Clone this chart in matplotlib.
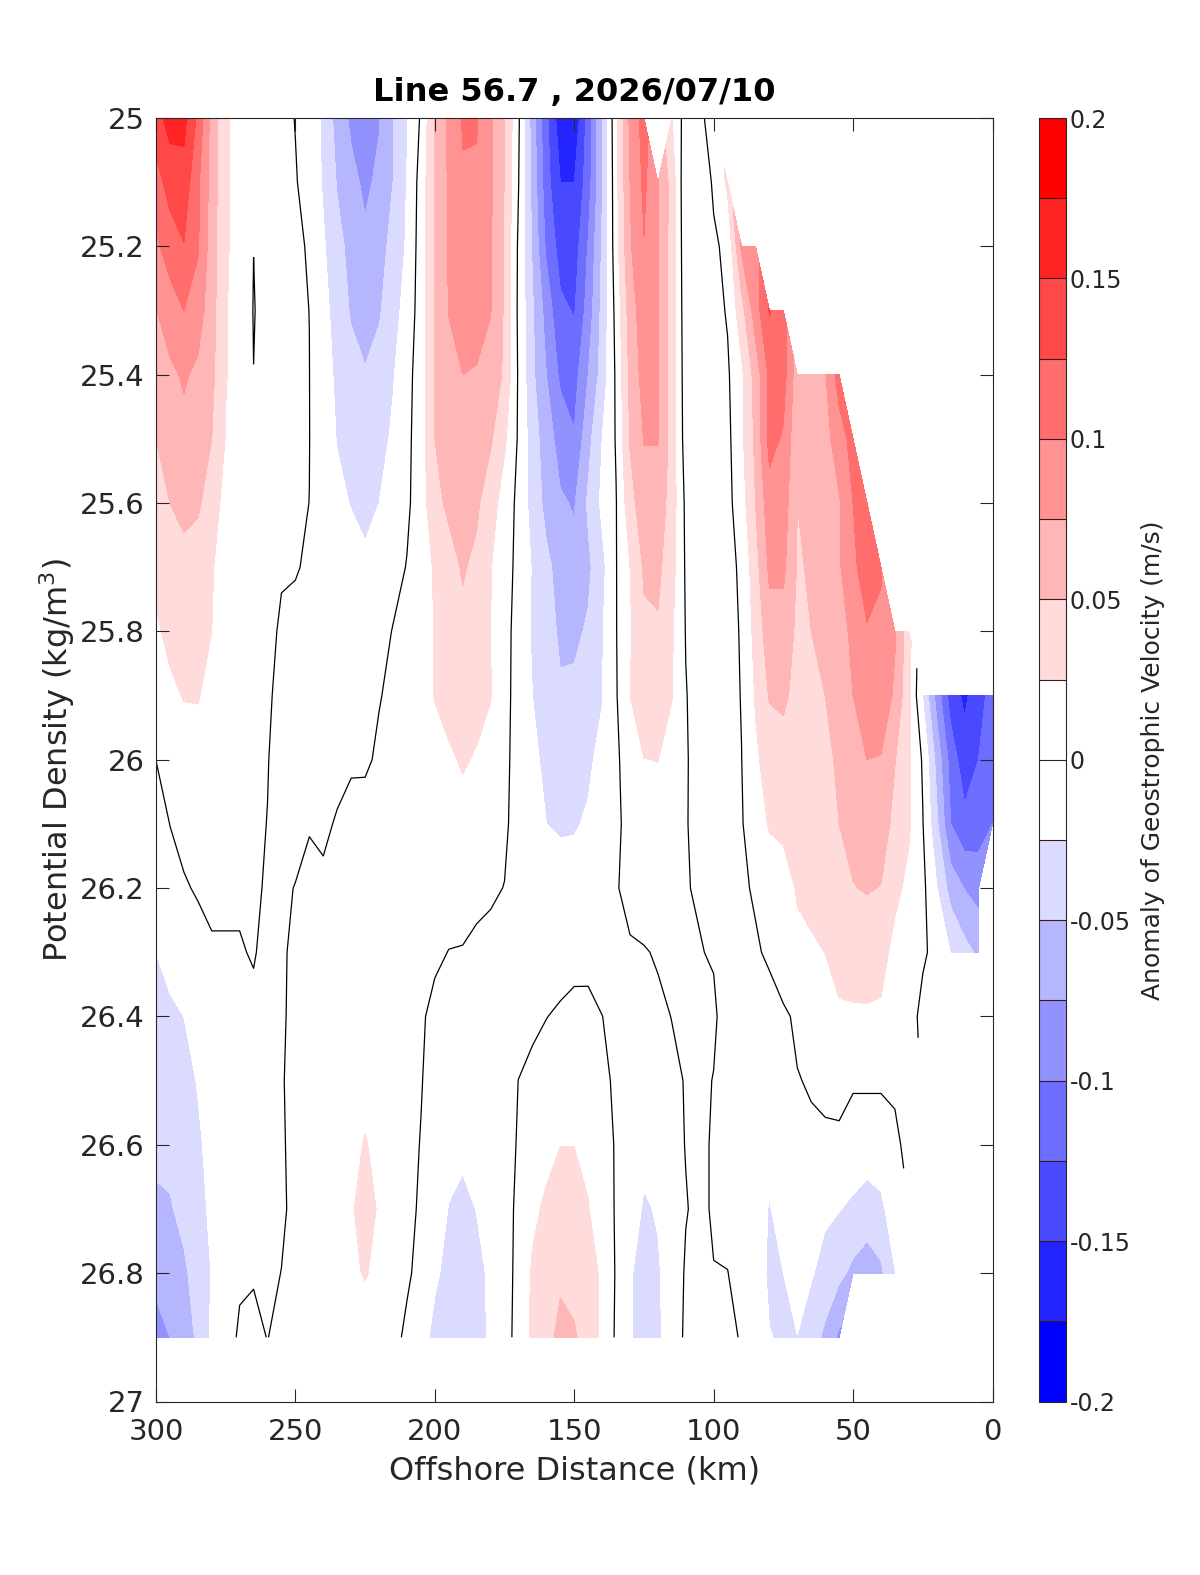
import numpy as np
import matplotlib
matplotlib.use('Agg')
import matplotlib.pyplot as plt
from matplotlib.colors import ListedColormap

N = np.nan

# offshore distance (km) and potential density (kg/m3) of the section grid
distance = list(range(300, -5, -5))
density = [25.0, 25.1, 25.2, 25.3, 25.4, 25.5, 25.6, 25.7, 25.8, 25.9,
           26.0, 26.1, 26.2, 26.3, 26.4, 26.5, 26.6, 26.7, 26.8, 26.9]

# velocity anomaly in mm/s, one row per density, 300 km -> 0 km
vel_mm_s = [
    [140, 160, 158, 120, 65, 27, 20, 16, 10, 5,
     -0.5, -8, -30, -60, -80, -90, -77, -50, -27, 3,
     52, 80, 102, 102, 80, 50, 4, -62, -120, -165,
     -170, -115, -50, 20, 80, 110, N, 26, -12, -4,
     8] + [N] * 20,
    [115, 135, 140, 105, 65, 27, 20, 12, 9, 4,
     1, -6, -28, -52, -68, -80, -70, -50, -24, 10,
     52, 78, 98, 97, 79, 49, 1, -58, -115, -150,
     -150, -112, -52, 18, 75, 105, 77, 40, -20, -10,
     2, 30] + [N] * 19,
    [95, 112, 124, 103, 62, 27, 19, 0.2, 8, 3,
     2, -1, -22, -43, -57, -70, -60, -42, -22, 12,
     52, 77, 93, 90, 77, 48, -4, -53, -105, -135,
     -138, -98, -47, 15, 72, 99, 76, 40, -18, -12,
     -2, 3, 80, 90] + [N] * 17,
    [74, 88, 100, 87, 60, 26, 18, -1, 8, 2,
     3, -0.1, -18, -34, -53, -62, -53, -34, -16, 12,
     51, 76, 88, 86, 76, 47, -5, -47, -85, -120,
     -127, -90, -43, 8, 62, 90, 76, 40, -16, -13,
     -8, 2, 40, 88, 127, 110] + [N] * 15,
    [60, 70, 78, 70, 56, 26, 17, 0.2, 7, 2,
     4, 0.2, -16, -29, -40, -48, -40, -27, -8, 12,
     50, 66, 75, 73, 66, 46, -3, -45, -75, -105,
     -110, -75, -40, 4, 56, 85, 76, 40, -14, -12,
     -7, -3, 20, 60, 105, 110, 60, 55, 73, 110] + [N] * 11,
    [50, 60, 68, 60, 50, 24, 15, 6, 6, 1.5,
     4, 0.3, -14, -26, -34, -42, -34, -21, -6, 13,
     50, 60, 66, 63, 53, 29, -3, -38, -63, -85,
     -98, -58, -25, 2, 52, 76, 76, 40, -12, -11,
     -7, -6, 20, 55, 108, 97, 55, 55, 65, 90,
     108] + [N] * 10,
    [40, 50, 56, 53, 40, 14, 13, 5, 5, 1.5,
     3, -0.1, -12, -20, -26, -32, -25, -15, -4, 12,
     44, 54, 58, 54, 36, 14, -6, -35, -57, -72,
     -77, -46, -20, -1, 40, 66, 66, 38, -5, -10,
     -8, -7, 14, 50, 90, 88, 50, 53, 58, 72,
     100, 115] + [N] * 9,
    [30, 40, 43, 40, 27, 13, 9, 4, 4, 1,
     1, -2, -8, -12, -16, -20, -15, -8, 1, 12,
     28, 42, 52, 45, 26, 9, -6, -27, -45, -58,
     -68, -55, -32, -1, 25, 53, 56, 34, -3, -10,
     -8, -7, 4, 40, 80, 80, 48, 52, 58, 72,
     95, 112, 101] + [N] * 8,
    [22, 30, 33, 33, 25, 8, 6, 3, 3, -1.5,
     -4, -6, -8, -9, -12, -14, -8, 1, 6, 12,
     26, 38, 45, 40, 25, 8, -9, -28, -40, -54,
     -55, -47, -27, -1, 22, 46, 47, 28, -1, -10,
     -7, -8, 2, 33, 65, 65, 45, 50, 60, 66,
     80, 98, 98, 77, 35] + [N] * 6,
    [10, 21, 26, 27, 15, 6, 4, 2, 1.5, -3,
     -5, -7, -8, -8, -8, -7, -0.5, 2, 6, 11,
     26, 32, 36, 32, 26, 7, -9, -25, -36, -47,
     -45, -38, -26, -2, 25, 36, 37, 26, 1, -9,
     -9, -9, 1, 27, 52, 56, 40, 40, 50, 58,
     75, 86, 86, 72, 30, -26, -85, -137, -155, -135,
     -115],
    [0.1, 6, 15, 12, 8, 6, 3, 1, 0.2, -2,
     -5, -6, -7, -5, -2, -1.5, 1.5, 4, 7, 11,
     16, 22, 27, 23, 17, 6, -10, -20, -30, -38,
     -35, -28, -20, -2, 6, 24.7, 25.3, 16, 2, -9,
     -10, -10, -0.3, 21, 35, 37, 34, 32, 44, 54,
     66, 75, 74, 51, 30, -3, -58, -110, -140, -125,
     -105],
    [-7, 0.2, 6, 6, 4, 3, 2, 1, -0.1, -3,
     -4, -0.5, -3, 1.5, 5, 4, 5, 7, 8, 11,
     12, 15, 18, 16, 12, 4, -10, -17, -25, -27,
     -26.5, -23, -16, -3, 5, 18, 18, 12, 1.5, -8,
     -11, -11, -1, 8, 28, 30, 30, 30, 36, 50,
     58, 66, 64, 42, 28, 1, -45, -100, -118, -112,
     -100],
    [-12, -6, -2, 2, 2, 1, 1, 1.5, -1, -2,
     0.4, 2, 3, 4, 6, 5, 5, 6, 7, 10,
     8, 10, 8, 5, 3, -0.5, -12, -14, -16, -18,
     -18, -16, -12, -1, 4, 12, 12, 8, 1, -2,
     -10, -12, -2, 1.5, 6, 15, 27, 32, 34, 40,
     49, 52, 49, 30, 20, 6, -24, -60, -76, -85,
     N],
    [-25, -16, -12, -8, -1, -0.5, -0.5, 0.5, -2, -2,
     3, 3, 3, 4, 5, 5, 5, 6, 6, 8,
     4, -0.5, -1, -4, -6, -7, -9, -12, -12, -11,
     -8, -9, -9, -5, -1.5, -1.5, 2, 5, 4, 1,
     -2, -12, -6, -1.5, 2, 8, 20, 21.5, 25.2, 30,
     32, 33, 32, 19, 12, 1, -2, -26, -42, -55,
     N],
    [-32, -30, -25, -18, -10, -5, -2, -1.5, -2.5, -2,
     4, 4, 4, 4, 5, 5, 5, 5, 4, 3,
     -6, -7, -7, -8, -9, -9, -8, -5, -0.5, 3.5,
     7, 8, 0.2, -5, -6, -5, -4, 0.4, 3, 4,
     4, -12, -10, -7, -5, -2, 2, 11, 16, 23,
     23, 23, 22, 12, 3, -2] + [N] * 5,
    [-40, -36, -31, -24, -15, -8, -4, -3, -3, -1,
     4, 5, 6, 7, 9, 10, 9, 7, 4, 0.7,
     -5, -9, -11, -11, -10, -8, 0.2, 6, 11, 13,
     12, 13, 5, -3.5, -6, -7, -6, -4, 1, 5,
     -0.8, -12, -11, -9, -7, -4, -0.5, 1, 4, 5,
     2, 2, 3, 4, 4] + [N] * 6,
    [-45, -44, -36, -28, -19, -11, -5, -4, -3.5, -2,
     5, 6, 8, 12, 12, 28, 12, 10, 4, -0.5,
     -9, -16, -20, -18, -14, -9, 2, 11, 18, 24.5,
     24.5, 20, 10, -2, -7, -18, -14, -6, 0.6, 4,
     -2, -10, -9, -10, -12, -8, -5, -2, -3, -3,
     -8, -8, -12, -5, 7] + [N] * 6,
    [-54, -52, -44, -30, -22, -13, -5, -4, -3, -3,
     5, 7, 9, 13, 22, 36, 22, 11, 4, -2,
     -12, -26, -31, -24.5, -18, -9, 5, 20, 29, 40,
     40, 26, 12, -2, -12, -28, -23, -8, -0.9, 4,
     -2, -5, -8, -10, -27, -13, -10, -14, -21, -24,
     -30, -40, -30, -12] + [N] * 7,
    [-68, -62, -54, -40, -24, -12, -3, -1, -4, 0.3,
     4, 6, 8, 12, 20, 27, 18, 9, 1.5, -3,
     -20, -34, -38, -30, -22, -10, 7, 28, 38, 45,
     44, 38, 20, -2, -22, -37, -28, -12, 2, 5,
     0.5, 0.3, -6, -10, -30, -25, -14, -23, -33, -44,
     -56, -60, -55, -26] + [N] * 7,
    [-85, -75, -62, -46, -20, -9, 3, 3, -0.3, 4,
     6, 8, 8, 8, 10, 10, 8, 3, -2, -12,
     -34, -38, -40, -32, -22, -10, 9, 30, 40, 58,
     52, 42, 18, -3, -22, -42, -30, -10, 3, 5,
     4, 3, -1, -9, -24, -28, -25.5, -37, -56, -80] + [N] * 11,
]

levels = np.linspace(-0.2, 0.2, 17)
cbar_ticks = [-0.2, -0.15, -0.1, -0.05, 0, 0.05, 0.1, 0.15, 0.2]
x_ticks = [300, 250, 200, 150, 100, 50, 0]
y_ticks = [25, 25.2, 25.4, 25.6, 25.8, 26, 26.2, 26.4, 26.6, 26.8, 27]

# blue-white-red with two white bands round zero
blues = [(k / 7, k / 7, 1.0) for k in range(8)]
reds = [(1.0, k / 7, k / 7) for k in range(7, -1, -1)]
cmap = ListedColormap(blues + reds)

dark = '#262626'
W, H = 1200, 1575
left, right, top, bottom = 156, 992.5, 118, 1401.5

fig = plt.figure(figsize=(W / 100, H / 100), dpi=100)
ax = fig.add_axes([left / W, 1 - bottom / H, (right - left) / W, (bottom - top) / H])
cax = fig.add_axes([1038.5 / W, 1 - bottom / H, 27 / W, (bottom - top) / H])

Z = np.array(vel_mm_s, dtype=float) / 1000.0
cf = ax.contourf(distance, density, Z, levels=levels, cmap=cmap, vmin=-0.2, vmax=0.2)
ax.contour(distance, density, Z, levels=[0], colors='k', linewidths=0.9)

ax.set_xlim(300, 0)
ax.set_ylim(27, 25)
ax.set_xticks(x_ticks)
ax.set_yticks(y_ticks)
ax.set_yticklabels([f'{v:g}' for v in y_ticks])
ax.tick_params(direction='in', length=9.4, width=0.8, top=True, right=True,
               labelsize=21, color=dark, labelcolor=dark)
ax.tick_params(axis='x', pad=12)
ax.tick_params(axis='y', pad=8)
for s in ax.spines.values():
    s.set_linewidth(0.8)
    s.set_color(dark)

ax.set_title('Line 56.7 , 2026/07/10', fontsize=23.1, fontweight='bold', pad=12)
ax.set_xlabel('Offshore Distance (km)', fontsize=23, color=dark, labelpad=7)
ax.set_ylabel('Potential Density (kg/m$^3$)', fontsize=23, color=dark, labelpad=2)

cb = fig.colorbar(cf, cax=cax, ticks=cbar_ticks, drawedges=True)
cb.ax.set_yticklabels([f'{v:g}' for v in cbar_ticks])
cb.ax.tick_params(length=0, labelsize=17, labelcolor=dark, pad=3)
cb.dividers.set_color('#3a1a1a')
cb.dividers.set_linewidth(0.8)
cb.outline.set_edgecolor(dark)
cb.outline.set_linewidth(0.8)
cb.set_label('Anomaly of Geostrophic Velocity (m/s)', fontsize=18, color=dark, labelpad=7)

fig.savefig('out.png', dpi=100)
